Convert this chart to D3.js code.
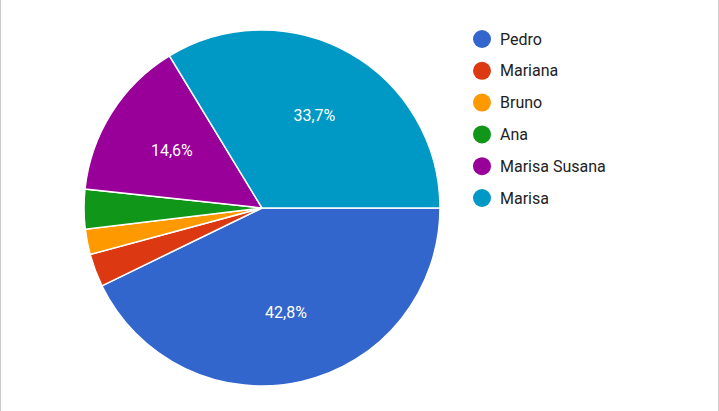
<!DOCTYPE html>
<html><head><meta charset="utf-8">
<script src="https://cdn.jsdelivr.net/npm/d3@7"></script>
<style>body{margin:0;background:#fff}svg{display:block}</style>
</head><body>
<script>
const categories = ["Pedro","Mariana","Bruno","Ana","Marisa Susana","Marisa"];
const values = [42.8, 3.0, 2.3, 3.6, 14.6, 33.7];
const colors = ["#3366cc","#dc3912","#ff9900","#109618","#990099","#0099c6"];
const W=719,H=411,cx=262,cy=208,r=178;
const svg=d3.select("body").append("svg").attr("width",W).attr("height",H);
svg.append("rect").attr("x",0.5).attr("y",-1).attr("width",W-1).attr("height",H+2).attr("fill","none").attr("stroke","#ccc");
const data=categories.map((c,i)=>({c,v:values[i],col:colors[i]}));
const pie=d3.pie().value(d=>d.v).sort(null).startAngle(Math.PI/2).endAngle(Math.PI/2+2*Math.PI);
const arc=d3.arc().innerRadius(0).outerRadius(r);
const g=svg.append("g").attr("transform",`translate(${cx},${cy})`);
const arcs=pie(data);
g.selectAll("path").data(arcs).join("path").attr("d",arc).attr("fill",d=>d.data.col).attr("stroke","#fff").attr("stroke-width",1.5);
const la=d3.arc().innerRadius(r*0.6).outerRadius(r*0.6);
g.selectAll("text").data(arcs.filter(d=>d.data.v>10)).join("text")
 .attr("transform",d=>`translate(${la.centroid(d)})`).attr("text-anchor","middle").attr("dy","0.35em")
 .attr("fill","#fff").attr("font-family","Roboto, sans-serif").attr("font-size",16)
 .text(d=>d.data.v.toFixed(1).replace(".",",")+"%");
const lg=svg.append("g");
data.forEach((d,i)=>{
 const y=39+i*31.8;
 lg.append("circle").attr("cx",482).attr("cy",y).attr("r",9).attr("fill",d.col);
 lg.append("text").attr("x",500).attr("y",y).attr("dy","0.35em").attr("font-family","Roboto, sans-serif").attr("font-size",16).attr("fill","#222").text(d.c);
});
</script>
</body></html>
